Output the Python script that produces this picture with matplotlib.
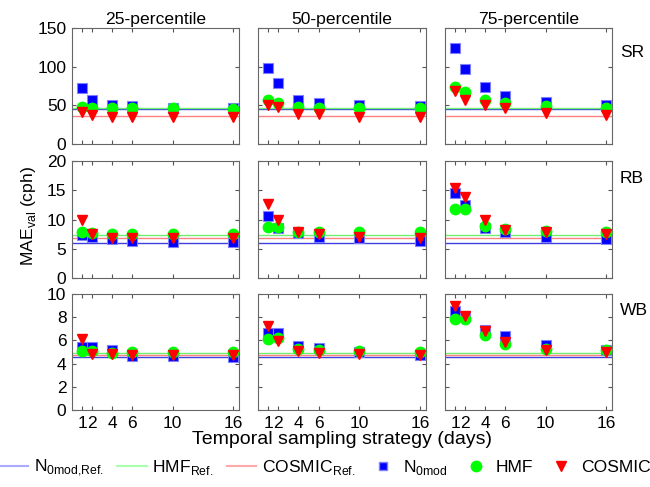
import numpy as np
import matplotlib
matplotlib.use('Agg')
import matplotlib.pyplot as plt
from matplotlib.lines import Line2D

plt.rcParams['font.family'] = ['Liberation Sans', 'DejaVu Sans']
plt.rcParams['font.size'] = 12

# datos
days = [1, 2, 4, 6, 10, 16]
percentiles = ['25-percentile', '50-percentile', '75-percentile']
sites = ['SR', 'RB', 'WB']

n0_ref = [45.8, 5.9, 4.6]
hmf_ref = [46.2, 7.4, 4.9]
cosmic_ref = [35.8, 6.8, 4.7]

sr_n0 = [[72.7, 56.4, 50, 48.7, 47, 46.5],
         [97.8, 79.5, 57.3, 53, 50, 49],
         [124.7, 96.5, 73.5, 61.5, 54.2, 50.4]]
sr_hmf = [[47.8, 46.5, 46, 46, 46, 45],
          [56.4, 53.4, 47.8, 46.5, 47, 46],
          [73.5, 66.7, 56.4, 53.2, 48.7, 47]]
sr_cosmic = [[41.4, 37, 35, 35, 35, 35],
             [50, 47.8, 39.3, 38.5, 35.4, 35],
             [67.9, 57.3, 50, 47, 40, 38]]

rb_n0 = [[7.35, 7.06, 6.67, 6.4, 6.2, 6.1],
         [10.55, 8.5, 7.64, 6.96, 6.8, 6.4],
         [14.5, 12.5, 8.5, 7.86, 7.06, 6.7]]
rb_hmf = [[7.8, 7.65, 7.6, 7.6, 7.6, 7.6],
          [8.77, 8.65, 7.9, 7.9, 7.8, 7.8],
          [11.75, 11.75, 8.94, 8.4, 8.1, 7.9]]
rb_cosmic = [[9.9, 7.5, 6.8, 6.8, 6.8, 6.8],
             [12.65, 10.0, 7.8, 7.5, 7.0, 6.8],
             [15.3, 13.8, 9.9, 8.2, 7.8, 7.6]]

wb_n0 = [[5.43, 5.43, 5.14, 4.68, 4.62, 4.6],
         [6.64, 6.64, 5.48, 5.34, 5.0, 4.7],
         [8.5, 8.1, 6.92, 6.35, 5.57, 5.2]]
wb_hmf = [[5.1, 5.1, 4.9, 5.0, 5.0, 5.0],
          [6.15, 6.2, 5.3, 5.2, 5.1, 5.0],
          [7.85, 7.85, 6.5, 5.72, 5.3, 5.2]]
wb_cosmic = [[6.15, 4.85, 4.85, 4.75, 4.75, 4.7],
             [7.2, 5.91, 5.11, 4.9, 4.85, 4.7],
             [9.0, 8.07, 6.78, 5.9, 5.2, 5.0]]

n0_all = [sr_n0, rb_n0, wb_n0]
hmf_all = [sr_hmf, rb_hmf, wb_hmf]
cosmic_all = [sr_cosmic, rb_cosmic, wb_cosmic]

ylims = [(0, 150), (0, 20), (0, 10)]
yticks = [[0, 50, 100, 150], [0, 5, 10, 15, 20], [0, 2, 4, 6, 8, 10]]
label_y = [0.79, 0.85, 0.86]

c_n0_line = '#4040e0'
c_hmf_line = '#70f070'
c_cos_line = '#ff8080'

fig = plt.figure(figsize=(6.5, 4.87), dpi=100)

W, H = 650.0, 487.0
cols = [(72, 239), (258, 426), (445, 612)]
rows = [(28, 144), (161, 278), (294, 410)]

for i in range(3):
    for j in range(3):
        x0, x1 = cols[j]
        y0, y1 = rows[i]
        ax = fig.add_axes([x0 / W, 1 - y1 / H, (x1 - x0) / W, (y1 - y0) / H])
        ax.axhline(n0_ref[i], color=c_n0_line, lw=1, zorder=1)
        ax.axhline(hmf_ref[i], color=c_hmf_line, lw=1, zorder=1)
        ax.axhline(cosmic_ref[i], color=c_cos_line, lw=1, zorder=1)
        ax.plot(days, n0_all[i][j], 's', color='#0000ff', mec='#8080ff',
                mew=0.8, ms=6.5, zorder=2)
        ax.plot(days, hmf_all[i][j], 'o', color='#00ff00', mec='#00ff00',
                ms=7.5, zorder=3)
        ax.plot(days, cosmic_all[i][j], 'v', color='#ff0000', mec='#ff0000',
                ms=7.5, zorder=4)
        ax.set_xlim(0, 16.6)
        ax.set_ylim(*ylims[i])
        ax.set_xticks(days)
        ax.set_yticks(yticks[i])
        ax.tick_params(direction='in', top=True, right=True, length=3,
                       color='#555555', labelsize=12.5, pad=4)
        for s in ax.spines.values():
            s.set_color('#666666')
        if i < 2:
            ax.set_xticklabels([])
        if j > 0:
            ax.set_yticklabels([])
        if i == 0:
            ax.set_title(percentiles[j], fontsize=12.6, pad=3)
        if j == 2:
            ax.text(1.048, label_y[i], sites[i], transform=ax.transAxes,
                    fontsize=12.6, va='center', ha='left')

fig.text(28 / W, 1 - 216 / H, r'MAE$_{\mathregular{val}}$ (cph)', rotation=90,
         ha='center', va='center', fontsize=12.6)
fig.text(342 / W, 1 - 439 / H, 'Temporal sampling strategy (days)',
         ha='center', va='center', fontsize=14)

handles = [
    Line2D([], [], color='#aaaaff', lw=1.5),
    Line2D([], [], color='#aaffaa', lw=1.5),
    Line2D([], [], color='#ffaaaa', lw=1.5),
    Line2D([], [], ls='none', marker='s', color='#0000ff', mec='#8080ff', ms=6),
    Line2D([], [], ls='none', marker='o', color='#00ff00', ms=7.5),
    Line2D([], [], ls='none', marker='v', color='#ff0000', ms=7.5),
]
labels = [r'N$_{\mathregular{0mod{,}Ref.}}$', r'HMF$_{\mathregular{Ref.}}$',
          r'COSMIC$_{\mathregular{Ref.}}$', r'N$_{\mathregular{0mod}}$',
          'HMF', 'COSMIC']
fig.legend(handles, labels, loc='center', bbox_to_anchor=(0.5, 1 - 468 / H),
           ncol=6, frameon=False, fontsize=12.6, handlelength=1.7,
           handletextpad=0.3, columnspacing=0.75, borderaxespad=0)

fig.savefig('out.png', dpi=100)
